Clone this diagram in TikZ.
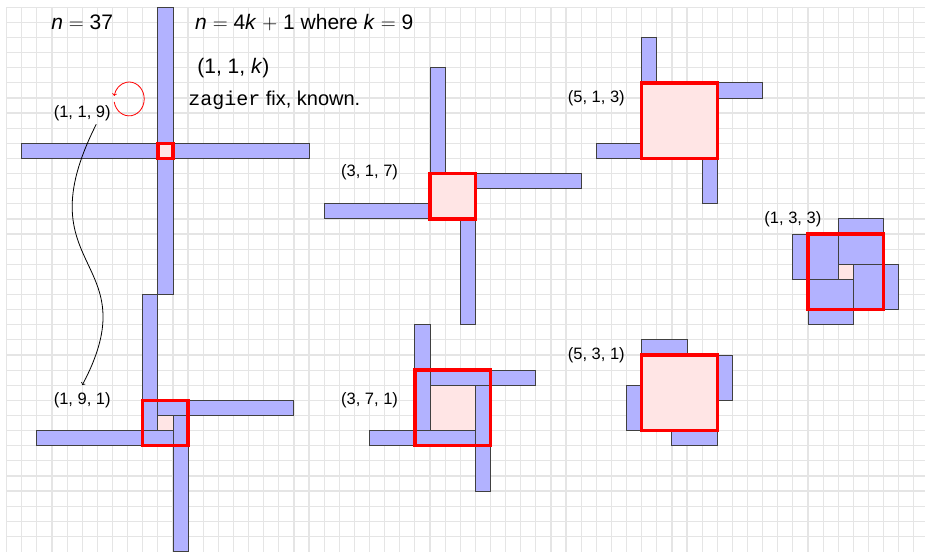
\documentclass[tikz,border=0pt]{standalone}
\usepackage{amsmath}
\usepackage{fontspec}
\setmainfont{Liberation Sans}
\setmonofont{Liberation Mono}

\begin{document}
\begin{tikzpicture}[x=15.12pt, y=-15.12pt,
    gridline/.style={draw=gray!20, line width=1.2pt},
    arm/.style={fill=blue!30, draw=black!75, line width=0.9pt},
    core/.style={fill=red!10},
    redsq/.style={draw=red, line width=3.5pt},
    triple/.style={font=\fontsize{16.5}{19}\selectfont},
    head/.style={font=\fontsize{21}{24}\selectfont}]
    % Page and background grid
    \useasboundingbox (-0.44,-0.48) rectangle (60.74,36);
    \clip (-0.44,-0.48) rectangle (60.74,36);
    \foreach \gx in {0,...,60} \draw[gridline] (\gx,0) -- (\gx,36);
    \foreach \gy in {0,...,35} \draw[gridline] (0,\gy) -- (61,\gy);

    % Windmills: corner a/b, sizes x/y/z, side of the red square
    \foreach \ca/\cb/\sx/\sy/\sz/\rs in {10/9/1/1/9/1, 10/27/1/9/1/3,
        28/11/3/1/7/3, 28/25/3/7/1/5, 42/5/5/1/3/5, 42/23/5/3/1/5, 55/17/1/3/3/5}
    {
        \fill[core] (\ca,\cb) rectangle ++(\sx,\sx);
        \draw[arm] (\ca,\cb-\sz) rectangle ++(\sy,\sz);
        \draw[arm] (\ca+\sx,\cb) rectangle ++(\sz,\sy);
        \draw[arm] (\ca+\sx-\sy,\cb+\sx) rectangle ++(\sy,\sz);
        \draw[arm] (\ca-\sz,\cb+\sx-\sy) rectangle ++(\sz,\sy);
        \draw[redsq] (\ca+\sx/2-\rs/2,\cb+\sx/2-\rs/2) rectangle ++(\rs,\rs);
    }

    % Headings
    \node[head] (nval) at (5,1) {\textit{n} $=$ 37};
    \node[head, anchor=west, inner sep=0pt] (form) at (12.46,1)
        {\textit{n} $=$ 4\textit{k} $+$ 1 where \textit{k} $=$ 9};
    \node[head] (fixp) at (15,4) {(1, 1, \textit{k})};
    \node[font=\fontsize{20}{23}\selectfont, anchor=west, inner sep=0pt] (note) at (12,6.13)
        {\texttt{zagier} fix, known.};

    % Triple labels
    \node[triple] (l119) at (5,7) {(1, 1, 9)};
    \node[triple] (l191) at (5,26) {(1, 9, 1)};
    \node[triple] (l317) at (24,10.9) {(3, 1, 7)};
    \node[triple] (l371) at (24,26) {(3, 7, 1)};
    \node[triple] (l513) at (39,6) {(5, 1, 3)};
    \node[triple] (l531) at (39,23) {(5, 3, 1)};
    \node[triple] (l133) at (52,14) {(1, 3, 3)};

    % Fixed point loop and the move down
    \draw[->, red, line width=0.8pt] (l119.north east)
        arc[start angle=170, end angle=-170, x radius=1, y radius=1.12];
    \draw[->, line width=0.8pt] ([xshift=14pt]l119.south)
        .. controls (1,17.5) and (9.5,16.5) .. ([yshift=4pt]l191.north);
\end{tikzpicture}
\end{document}
